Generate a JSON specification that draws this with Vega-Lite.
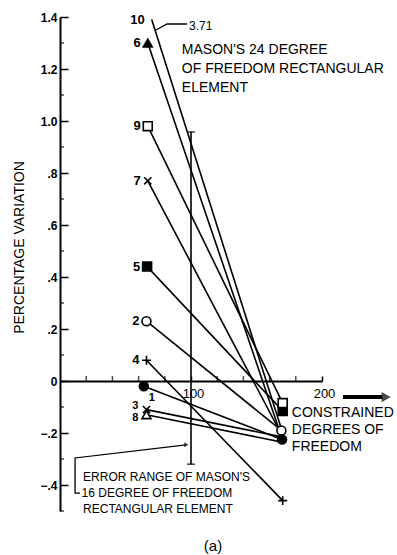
{
  "$schema": "https://vega.github.io/schema/vega-lite/v6.json",
  "width": 262,
  "height": 494,
  "autosize": {"type": "none"},
  "padding": {"left": 60, "top": 17, "right": 75, "bottom": 44},
  "background": "white",
  "config": {
    "view": {"stroke": null},
    "font": "Liberation Sans",
    "axis": {"grid": false, "domainColor": "black", "tickColor": "black", "labelColor": "black", "titleColor": "black"}
  },
  "datasets": {
    "lines": [
      {"series": "1", "end": "left", "x": 64, "y": -0.02},
      {"series": "1", "end": "right", "x": 169.5, "y": -0.225},
      {"series": "2", "end": "left", "x": 66, "y": 0.23},
      {"series": "2", "end": "right", "x": 169, "y": -0.19},
      {"series": "3", "end": "left", "x": 66, "y": -0.11},
      {"series": "3", "end": "right", "x": 169.5, "y": -0.215},
      {"series": "4", "end": "left", "x": 66, "y": 0.08},
      {"series": "4", "end": "right", "x": 170, "y": -0.46},
      {"series": "5", "end": "left", "x": 66.5, "y": 0.44},
      {"series": "5", "end": "right", "x": 170, "y": -0.115},
      {"series": "6", "end": "left", "x": 67, "y": 1.3},
      {"series": "6", "end": "right", "x": 169.5, "y": -0.22},
      {"series": "7", "end": "left", "x": 67, "y": 0.77},
      {"series": "7", "end": "right", "x": 169.5, "y": -0.21},
      {"series": "8", "end": "left", "x": 66, "y": -0.13},
      {"series": "8", "end": "right", "x": 169.5, "y": -0.235},
      {"series": "9", "end": "left", "x": 67, "y": 0.98},
      {"series": "9", "end": "right", "x": 170, "y": -0.085},
      {"series": "10", "end": "left", "x": 70, "y": 1.39},
      {"series": "10", "end": "right", "x": 170, "y": -0.2}
    ],
    "errorrange": [{"x": 100, "lo": -0.32, "hi": 0.958}],
    "minorticks": [
      {"axis": "y", "v": -0.5}, {"axis": "y", "v": -0.3}, {"axis": "y", "v": -0.1},
      {"axis": "y", "v": 0.1}, {"axis": "y", "v": 0.3}, {"axis": "y", "v": 0.5},
      {"axis": "y", "v": 0.7}, {"axis": "y", "v": 0.9}, {"axis": "y", "v": 1.1},
      {"axis": "y", "v": 1.3},
      {"axis": "x", "v": 20}, {"axis": "x", "v": 40}, {"axis": "x", "v": 60},
      {"axis": "x", "v": 80}, {"axis": "x", "v": 120}, {"axis": "x", "v": 140},
      {"axis": "x", "v": 160}, {"axis": "x", "v": 180}
    ],
    "leaders": [
      {"path": "p371", "order": 1, "x": 73.3, "y": 1.35},
      {"path": "p371", "order": 2, "x": 81.7, "y": 1.373},
      {"path": "p371", "order": 3, "x": 97, "y": 1.373},
      {"path": "perr", "order": 1, "x": 15.3, "y": -0.431},
      {"path": "perr", "order": 2, "x": 11.5, "y": -0.431},
      {"path": "perr", "order": 3, "x": 11.5, "y": -0.296},
      {"path": "perr", "order": 4, "x": 96.2, "y": -0.246}
    ],
    "axisarrow": [
      {"order": 1, "x": 216, "y": -0.062},
      {"order": 2, "x": 246, "y": -0.062}
    ],
    "heads": [
      {"kind": "err", "x": 96.5, "y": -0.245},
      {"kind": "axis", "x": 249, "y": -0.062}
    ],
    "notes": [
      {"grp": "mason24", "text": "MASON'S 24 DEGREE", "x": 93, "y": 1.273},
      {"grp": "mason24", "text": "OF FREEDOM RECTANGULAR", "x": 93, "y": 1.2},
      {"grp": "mason24", "text": "ELEMENT", "x": 93, "y": 1.127},
      {"grp": "constrained", "text": "CONSTRAINED", "x": 177, "y": -0.123},
      {"grp": "constrained", "text": "DEGREES OF", "x": 177, "y": -0.188},
      {"grp": "constrained", "text": "FREEDOM", "x": 177, "y": -0.254},
      {"grp": "error", "text": "ERROR RANGE OF MASON'S", "x": 17.6, "y": -0.369},
      {"grp": "error", "text": "16 DEGREE OF FREEDOM", "x": 16.5, "y": -0.431},
      {"grp": "error", "text": "RECTANGULAR ELEMENT", "x": 17.6, "y": -0.492},
      {"grp": "caption", "text": "(a)", "x": 116.8, "y": -0.635},
      {"grp": "val", "text": "3.71", "x": 98.5, "y": 1.365}
    ]
  },
  "layer": [
    {
      "data": {"name": "lines"},
      "mark": {"type": "line", "color": "black", "strokeWidth": 1.6, "clip": false},
      "encoding": {
        "x": {
          "field": "x", "type": "quantitative",
          "scale": {"domain": [0, 200], "nice": false, "zero": false},
          "axis": {
            "title": null,
            "values": [100, 200],
            "labelOverlap": false,
            "labelFlush": false,
            "offset": -130,
            "tickSize": -5,
            "tickWidth": 1.5,
            "domainWidth": 2,
            "labelPadding": 11,
            "labelFontSize": 13,
            "labelFont": "Liberation Sans",
            "labelOffset": 2
          }
        },
        "y": {
          "field": "y", "type": "quantitative",
          "scale": {"domain": [-0.5, 1.4], "nice": false, "zero": false},
          "axis": {
            "title": "PERCENTAGE VARIATION",
            "titleFont": "Liberation Sans",
            "titleFontSize": 14,
            "titleFontWeight": "normal",
            "titleX": -41,
            "titleY": 230,
            "titleBaseline": "middle",
            "titleAngle": -90,
            "values": [-0.4, -0.2, 0, 0.2, 0.4, 0.6, 0.8, 1.0, 1.2, 1.4],
            "labelExpr": "datum.value == 0 ? '0' : replace(format(datum.value, '.1f'), '0.', '.')",
            "labelOverlap": false,
            "labelFlush": false,
            "tickSize": -8,
            "tickWidth": 1.5,
            "domainWidth": 2,
            "labelPadding": 11,
            "labelFontSize": 12,
            "labelFontWeight": "bold",
            "labelFont": "Liberation Sans"
          }
        },
        "detail": {"field": "series"}
      }
    },
    {
      "data": {"name": "minorticks"},
      "transform": [{"filter": "datum.axis == 'y'"}],
      "mark": {"type": "tick", "orient": "horizontal", "color": "black", "size": 4, "thickness": 1.5, "xOffset": 2},
      "encoding": {
        "x": {"datum": 0, "type": "quantitative"},
        "y": {"field": "v", "type": "quantitative"}
      }
    },
    {
      "data": {"name": "minorticks"},
      "transform": [{"filter": "datum.axis == 'x'"}],
      "mark": {"type": "tick", "orient": "vertical", "color": "black", "size": 5, "thickness": 1.5, "yOffset": -2.5},
      "encoding": {
        "x": {"field": "v", "type": "quantitative"},
        "y": {"datum": 0, "type": "quantitative"}
      }
    },
    {
      "data": {"name": "errorrange"},
      "mark": {"type": "rule", "color": "black", "strokeWidth": 1.6},
      "encoding": {
        "x": {"field": "x", "type": "quantitative"},
        "y": {"field": "lo", "type": "quantitative"},
        "y2": {"field": "hi"}
      }
    },
    {
      "data": {"name": "errorrange"},
      "mark": {"type": "tick", "orient": "horizontal", "color": "black", "size": 8, "thickness": 1.6},
      "encoding": {
        "x": {"field": "x", "type": "quantitative"},
        "y": {"field": "lo", "type": "quantitative"}
      }
    },
    {
      "data": {"name": "errorrange"},
      "mark": {"type": "tick", "orient": "horizontal", "color": "black", "size": 8, "thickness": 1.6},
      "encoding": {
        "x": {"field": "x", "type": "quantitative"},
        "y": {"field": "hi", "type": "quantitative"}
      }
    },
    {
      "data": {"name": "leaders"},
      "mark": {"type": "line", "color": "black", "strokeWidth": 1.3, "clip": false},
      "encoding": {
        "x": {"field": "x", "type": "quantitative"},
        "y": {"field": "y", "type": "quantitative"},
        "detail": {"field": "path"},
        "order": {"field": "order"}
      }
    },
    {
      "data": {"name": "axisarrow"},
      "mark": {"type": "line", "color": "black", "strokeWidth": 4, "clip": false},
      "encoding": {
        "x": {"field": "x", "type": "quantitative"},
        "y": {"field": "y", "type": "quantitative"},
        "order": {"field": "order"}
      }
    },
    {
      "data": {"name": "heads"},
      "transform": [{"filter": "datum.kind == 'axis'"}],
      "mark": {"type": "point", "shape": "triangle-right", "filled": true, "color": "black", "size": 110, "clip": false},
      "encoding": {
        "x": {"field": "x", "type": "quantitative"},
        "y": {"field": "y", "type": "quantitative"}
      }
    },
    {
      "data": {"name": "heads"},
      "transform": [{"filter": "datum.kind == 'err'"}],
      "mark": {"type": "point", "shape": "triangle-right", "filled": true, "color": "black", "size": 25, "clip": false},
      "encoding": {
        "x": {"field": "x", "type": "quantitative"},
        "y": {"field": "y", "type": "quantitative"}
      }
    },
    {
      "data": {"name": "lines"},
      "transform": [{"filter": "datum.series != '10' && (datum.end == 'left' || indexof(['1', '2', '4', '5', '9'], datum.series) >= 0)"}],
      "mark": {"type": "point", "stroke": "black", "strokeWidth": 1.6, "size": 80, "opacity": 1, "fillOpacity": 1, "clip": false},
      "encoding": {
        "x": {"field": "x", "type": "quantitative"},
        "y": {"field": "y", "type": "quantitative"},
        "shape": {
          "field": "series", "type": "nominal", "legend": null,
          "scale": {
            "domain": ["1", "2", "3", "4", "5", "6", "7", "8", "9"],
            "range": ["circle", "circle", "M-0.8,-0.8L0.8,0.8M-0.8,0.8L0.8,-0.8", "M-1,0L1,0M0,-1L0,1", "square", "triangle-up", "M-0.8,-0.8L0.8,0.8M-0.8,0.8L0.8,-0.8", "triangle-up", "square"]
          }
        },
        "fill": {
          "field": "series", "type": "nominal", "legend": null,
          "scale": {
            "domain": ["1", "2", "3", "4", "5", "6", "7", "8", "9"],
            "range": ["black", "white", "white", "white", "black", "black", "white", "white", "white"]
          }
        }
      }
    },
    {
      "data": {"name": "lines"},
      "transform": [{"filter": "datum.end == 'left' && indexof(['1', '3', '8'], datum.series) < 0"}],
      "mark": {"type": "text", "align": "right", "baseline": "middle", "dx": -7, "fontSize": 13, "fontWeight": "bold", "font": "Liberation Sans", "color": "black", "clip": false},
      "encoding": {
        "x": {"field": "x", "type": "quantitative"},
        "y": {"field": "y", "type": "quantitative"},
        "text": {"field": "series"}
      }
    },
    {
      "data": {"name": "lines"},
      "transform": [{"filter": "datum.end == 'left' && datum.series == '3'"}],
      "mark": {"type": "text", "align": "right", "baseline": "middle", "dx": -8, "dy": -4, "fontSize": 11, "fontWeight": "bold", "font": "Liberation Sans", "color": "black"},
      "encoding": {
        "x": {"field": "x", "type": "quantitative"},
        "y": {"field": "y", "type": "quantitative"},
        "text": {"field": "series"}
      }
    },
    {
      "data": {"name": "lines"},
      "transform": [{"filter": "datum.end == 'left' && datum.series == '8'"}],
      "mark": {"type": "text", "align": "right", "baseline": "middle", "dx": -8, "dy": 3, "fontSize": 11, "fontWeight": "bold", "font": "Liberation Sans", "color": "black"},
      "encoding": {
        "x": {"field": "x", "type": "quantitative"},
        "y": {"field": "y", "type": "quantitative"},
        "text": {"field": "series"}
      }
    },
    {
      "data": {"name": "lines"},
      "transform": [{"filter": "datum.end == 'left' && datum.series == '1'"}],
      "mark": {"type": "text", "align": "center", "baseline": "middle", "dx": 8, "dy": 12, "fontSize": 11, "fontWeight": "bold", "font": "Liberation Sans", "color": "black"},
      "encoding": {
        "x": {"field": "x", "type": "quantitative"},
        "y": {"field": "y", "type": "quantitative"},
        "text": {"field": "series"}
      }
    },
    {
      "data": {"name": "notes"},
      "transform": [{"filter": "datum.grp == 'mason24' || datum.grp == 'constrained'"}],
      "mark": {"type": "text", "align": "left", "baseline": "middle", "fontSize": 14, "font": "Liberation Sans", "color": "black", "clip": false},
      "encoding": {
        "x": {"field": "x", "type": "quantitative"},
        "y": {"field": "y", "type": "quantitative"},
        "text": {"field": "text"}
      }
    },
    {
      "data": {"name": "notes"},
      "transform": [{"filter": "datum.grp == 'error'"}],
      "mark": {"type": "text", "align": "left", "baseline": "middle", "fontSize": 12, "font": "Liberation Sans", "color": "black", "clip": false},
      "encoding": {
        "x": {"field": "x", "type": "quantitative"},
        "y": {"field": "y", "type": "quantitative"},
        "text": {"field": "text"}
      }
    },
    {
      "data": {"name": "notes"},
      "transform": [{"filter": "datum.grp == 'caption'"}],
      "mark": {"type": "text", "align": "center", "baseline": "middle", "fontSize": 15, "font": "Liberation Sans", "color": "black", "clip": false},
      "encoding": {
        "x": {"field": "x", "type": "quantitative"},
        "y": {"field": "y", "type": "quantitative"},
        "text": {"field": "text"}
      }
    },
    {
      "data": {"name": "notes"},
      "transform": [{"filter": "datum.grp == 'val'"}],
      "mark": {"type": "text", "align": "left", "baseline": "middle", "fontSize": 12, "font": "Liberation Sans", "color": "black", "clip": false},
      "encoding": {
        "x": {"field": "x", "type": "quantitative"},
        "y": {"field": "y", "type": "quantitative"},
        "text": {"field": "text"}
      }
    }
  ]
}
